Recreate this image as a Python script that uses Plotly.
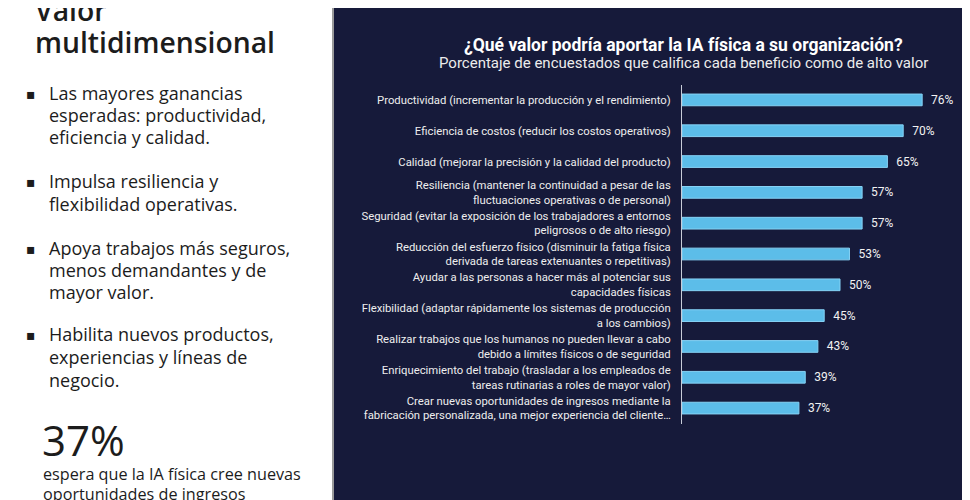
import plotly.graph_objects as go

categories = [
    "Productividad (incrementar la producción y el rendimiento)",
    "Eficiencia de costos (reducir los costos operativos)",
    "Calidad (mejorar la precisión y la calidad del producto)",
    "Resiliencia (mantener la continuidad a pesar de las<br>fluctuaciones operativas o de personal)",
    "Seguridad (evitar la exposición de los trabajadores a entornos<br>peligrosos o de alto riesgo)",
    "Reducción del esfuerzo físico (disminuir la fatiga física<br>derivada de tareas extenuantes o repetitivas)",
    "Ayudar a las personas a hacer más al potenciar sus<br>capacidades físicas",
    "Flexibilidad (adaptar rápidamente los sistemas de producción<br>a los cambios)",
    "Realizar trabajos que los humanos no pueden llevar a cabo<br>debido a límites físicos o de seguridad",
    "Enriquecimiento del trabajo (trasladar a los empleados de<br>tareas rutinarias a roles de mayor valor)",
    "Crear nuevas oportunidades de ingresos mediante la<br>fabricación personalizada, una mejor experiencia del cliente…",
]
values = [76, 70, 65, 57, 57, 53, 50, 45, 43, 39, 37]
value_labels = [f"\u00a0\u00a0{v}%" for v in values]

chart_title = "¿Qué valor podría aportar la IA física a su organización?"
chart_subtitle = "Porcentaje de encuestados que califica cada beneficio como de alto valor"

left_title = ["Valor", "multidimensional"]
bullets = [
    ["Las mayores ganancias", "esperadas: productividad,", "eficiencia y calidad."],
    ["Impulsa resiliencia y", "flexibilidad operativas."],
    ["Apoya trabajos más seguros,", "menos demandantes y de", "mayor valor."],
    ["Habilita nuevos productos,", "experiencias y líneas de", "negocio."],
]
stat_value = "37%"
stat_text = ["espera que la IA física cree nuevas", "oportunidades de ingresos"]

# the page body adds an 8px offset; the figure is sized to fill the rest
OFF = 8
W, H = 970 - OFF, 500 - OFF
PANEL = "#161a3a"
BAR = "#5cbde9"
DARK = "#1c1c1c"

def px(x):
    return (x - OFF) / W

def py(y):
    return 1 - (y - OFF) / H

fig = go.Figure()
fig.add_trace(go.Bar(
    x=values, y=categories, orientation="h",
    marker=dict(color=BAR, line=dict(color="#86d2f5", width=1)),
    width=0.38,
    text=value_labels, textposition="outside",
    constraintext="none",
    textfont=dict(family="Roboto", size=12, color="#f2f2f2"),
    cliponaxis=False,
    hoverinfo="skip",
))

shapes = [
    dict(type="rect", xref="paper", yref="paper", x0=px(334), x1=1, y0=0, y1=1,
         fillcolor=PANEL, line=dict(width=0), layer="below"),
    dict(type="line", xref="paper", yref="paper", x0=px(333), x1=px(333), y0=0, y1=1,
         line=dict(color="#9a9a9a", width=2)),
]

annotations = []
LF = "Open Sans"

def ann(text, x, y, size, color=DARK, family=LF, xanchor="left", weight="normal"):
    annotations.append(dict(text=text, x=px(x), y=py(y), xref="paper", yref="paper",
                            xanchor=xanchor, yanchor="middle", showarrow=False,
                            font=dict(family=family, size=size, color=color, weight=weight)))

ann(left_title[0], 33, 10, 28.3, weight=600)
ann(left_title[1], 33, 42, 28.3, weight=600)

line_ys = [[93, 115, 137], [181, 204], [248, 270, 292], [334, 357, 380]]
for grp, ys in zip(bullets, line_ys):
    ann("▪", 24, ys[0] + 1, 14, family="DejaVu Sans")
    for t, yy in zip(grp, ys):
        ann(t, 47, yy, 18)

ann(stat_value, 40, 439, 42)
for t, yy in zip(stat_text, [474, 494]):
    ann(t, 41, yy, 16.2)

ann(f"<b>{chart_title}</b>", 683, 44.5, 17.5, color="#ffffff", family="Roboto", xanchor="center")
ann(chart_subtitle, 683, 62.5, 15, color="#ececec", family="Roboto", xanchor="center")

fig.update_layout(
    width=W, height=H,
    margin=dict(l=0, r=0, t=0, b=0),
    paper_bgcolor="#ffffff",
    plot_bgcolor="rgba(0,0,0,0)",
    showlegend=False,
    shapes=shapes,
    annotations=annotations,
    xaxis=dict(domain=[px(682), 1], range=[0, (970 - 682) / 3.16], visible=False,
               showgrid=False, zeroline=False, fixedrange=True),
    yaxis=dict(domain=[py(423.5), py(84.5)], autorange="reversed",
               showline=True, linecolor="#c8ccd8", linewidth=1,
               ticks="", showgrid=False,
               tickfont=dict(family="Roboto", size=11.3, color="#eeeeee"),
               ticklabelstandoff=8, fixedrange=True),
)

fig.write_html("out.html")
